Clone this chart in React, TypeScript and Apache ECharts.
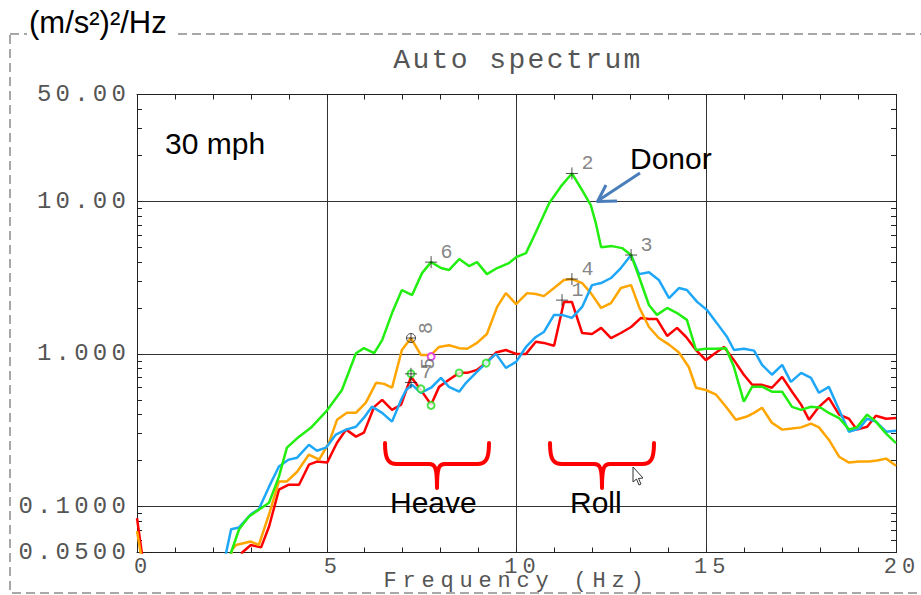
import React, { useEffect, useRef } from 'react';
import * as echarts from 'echarts';

// ---------- data ----------
const xTickLabels = ['0', '5', '10', '15', '20'];
const yTickValues = [0.05, 0.1, 1, 10, 50];
const yTickLabels = ['0.0500', '0.1000', '1.000', '10.00', '50.00'];
const yMinorTicks = [
  0.05, 0.06, 0.07, 0.08, 0.09, 0.1, 0.2, 0.3, 0.4, 0.5, 0.6, 0.7, 0.8, 0.9,
  1, 2, 3, 4, 5, 6, 7, 8, 9, 10, 20, 30, 40, 50,
];

// [frequency (Hz), PSD ((m/s^2)^2/Hz)]
const greenPsd = [
  [2.3, 0.03], [2.48, 0.05], [2.69, 0.071], [2.95, 0.086], [3.48, 0.106], [3.74, 0.157], [3.95, 0.243],
  [4.27, 0.287], [4.58, 0.328], [4.98, 0.418], [5.4, 0.58], [5.77, 1.01], [5.98, 1.09], [6.25, 1.01],
  [6.46, 1.23], [6.72, 1.85], [6.98, 2.62], [7.25, 2.43], [7.51, 3.38], [7.75, 3.99], [8.01, 3.65],
  [8.22, 3.54], [8.49, 4.18], [8.75, 3.76], [8.96, 3.99], [9.22, 3.33], [9.49, 3.65], [9.8, 3.93],
  [9.99, 4.3], [10.25, 4.57], [10.51, 6.27], [10.86, 9.7], [11.17, 12.5], [11.46, 15.2], [11.73, 11.8],
  [11.96, 9.4], [12.09, 7.18], [12.23, 5.0], [12.52, 5.08], [12.78, 4.93], [13.02, 4.44], [13.23, 3.19],
  [13.49, 2.09], [13.7, 1.8], [13.97, 2.0], [14.23, 1.85], [14.49, 1.67], [14.73, 1.06], [14.99, 1.08],
  [15.26, 1.08], [15.52, 1.09], [15.73, 0.82], [15.99, 0.486], [16.21, 0.61], [16.47, 0.61], [16.73, 0.565],
  [17.0, 0.565], [17.26, 0.45], [17.5, 0.43], [17.76, 0.45], [18.02, 0.444], [18.23, 0.41], [18.5, 0.38],
  [18.76, 0.32], [18.97, 0.33], [19.24, 0.4], [19.47, 0.36], [19.74, 0.3], [20, 0.26],
];
const bluePsd = [
  [2.25, 0.035], [2.35, 0.05], [2.48, 0.071], [2.69, 0.073], [3.0, 0.089], [3.21, 0.096], [3.48, 0.135],
  [3.74, 0.183], [4.0, 0.203], [4.22, 0.209], [4.53, 0.254], [4.74, 0.232], [4.98, 0.243], [5.24, 0.296],
  [5.51, 0.319], [5.77, 0.333], [5.98, 0.382], [6.19, 0.451], [6.46, 0.411], [6.72, 0.36], [6.96, 0.5],
  [7.09, 0.58], [7.25, 0.627], [7.48, 0.556], [7.75, 0.6], [8.01, 0.697], [8.22, 0.608], [8.49, 0.565],
  [8.67, 0.646], [8.93, 0.751], [9.2, 0.873], [9.46, 1.0], [9.72, 0.81], [9.99, 0.886], [10.25, 1.11],
  [10.51, 1.29], [10.72, 1.39], [10.99, 1.8], [11.2, 1.8], [11.46, 1.72], [11.73, 2.03], [11.99, 2.82],
  [12.23, 2.91], [12.49, 3.14], [12.75, 3.65], [13.02, 4.44], [13.23, 3.33], [13.49, 3.43], [13.75, 3.05],
  [14.02, 2.32], [14.28, 2.7], [14.49, 2.62], [14.76, 2.19], [15.02, 1.94], [15.28, 1.59], [15.55, 1.29],
  [15.73, 1.06], [15.99, 1.08], [16.26, 1.05], [16.47, 0.848], [16.73, 0.73], [17.0, 0.848], [17.23, 0.656],
  [17.5, 0.751], [17.76, 0.697], [17.97, 0.556], [18.23, 0.608], [18.5, 0.43], [18.76, 0.309], [19.03, 0.324],
  [19.24, 0.376], [19.47, 0.36], [19.74, 0.309], [20, 0.314],
];
const orangePsd = [
  [0, 0.069], [0.25, 0.03], [2.35, 0.03], [2.5, 0.052], [2.61, 0.056], [3.0, 0.059], [3.21, 0.056],
  [3.48, 0.089], [3.74, 0.146], [3.95, 0.146], [4.22, 0.169], [4.53, 0.219], [4.8, 0.203], [5.06, 0.262],
  [5.27, 0.37], [5.53, 0.411], [5.77, 0.411], [6.03, 0.479], [6.3, 0.646], [6.51, 0.636], [6.72, 0.6],
  [6.98, 1.06], [7.22, 1.27], [7.48, 0.985], [7.75, 0.985], [7.96, 1.11], [8.22, 1.14], [8.49, 1.09],
  [8.7, 1.08], [8.96, 1.18], [9.22, 1.35], [9.49, 2.03], [9.72, 2.5], [9.99, 2.12], [10.28, 2.5],
  [10.51, 2.47], [10.72, 2.39], [10.99, 2.7], [11.25, 3.05], [11.46, 3.09], [11.73, 2.91], [11.96, 2.5],
  [12.23, 2.0], [12.49, 2.15], [12.75, 2.7], [13.02, 2.82], [13.23, 2.03], [13.49, 1.5], [13.75, 1.27],
  [14.02, 1.15], [14.28, 1.02], [14.54, 0.82], [14.73, 0.6], [14.99, 0.58], [15.26, 0.54], [15.52, 0.45],
  [15.78, 0.37], [16.05, 0.387], [16.26, 0.411], [16.47, 0.444], [16.73, 0.354], [17.0, 0.319], [17.26, 0.324],
  [17.5, 0.33], [17.76, 0.349], [17.97, 0.33], [18.23, 0.274], [18.5, 0.212], [18.76, 0.194], [19.03, 0.197],
  [19.29, 0.197], [19.5, 0.2], [19.74, 0.206], [20, 0.185],
];
const redPsd = [
  [0, 0.084], [0.25, 0.03], [2.6, 0.03], [2.77, 0.05], [3.0, 0.056], [3.27, 0.054], [3.48, 0.074],
  [3.74, 0.129], [4.0, 0.139], [4.27, 0.139], [4.53, 0.188], [4.74, 0.197], [5.01, 0.194], [5.27, 0.262],
  [5.51, 0.319], [5.77, 0.287], [5.98, 0.305], [6.25, 0.45], [6.46, 0.5], [6.72, 0.43], [6.96, 0.465],
  [7.22, 0.707], [7.48, 0.58], [7.75, 0.465], [7.96, 0.608], [8.22, 0.676], [8.49, 0.751], [8.7, 0.751],
  [8.96, 0.786], [9.2, 0.873], [9.46, 1.02], [9.72, 1.06], [9.99, 1.0], [10.25, 1.0], [10.51, 1.2],
  [10.72, 1.18], [10.99, 1.13], [11.25, 2.19], [11.46, 2.19], [11.73, 1.37], [11.99, 1.35], [12.23, 1.48],
  [12.49, 1.27], [12.75, 1.37], [13.02, 1.5], [13.28, 1.72], [13.49, 1.69], [13.7, 1.69], [13.97, 1.31],
  [14.23, 1.48], [14.47, 1.29], [14.73, 1.06], [14.99, 0.91], [15.26, 1.02], [15.47, 1.11], [15.73, 0.91],
  [15.99, 0.73], [16.21, 0.627], [16.47, 0.627], [16.73, 0.6], [17.0, 0.707], [17.26, 0.565], [17.5, 0.465],
  [17.71, 0.37], [17.97, 0.45], [18.23, 0.515], [18.5, 0.4], [18.76, 0.376], [18.97, 0.319], [19.24, 0.333],
  [19.47, 0.393], [19.74, 0.376], [20, 0.38],
];

// cursor markers
const markerFreq = [11.2, 11.46, 13.02, 11.46, 7.22, 7.75, 7.22, 7.22];
const markerPsd = [2.25, 15.2, 4.44, 3.09, 0.74, 3.99, 0.65, 1.27];
const markerLabel = ['1', '2', '3', '4', '5', '6', '7', '8'];
const markerRotate = [0, 0, 0, 0, 90, 0, 0, 90];
const markerRing = [false, false, false, false, false, false, false, true];

// small circle markers
const circleFreq = [7.22, 7.48, 7.75, 8.49, 9.2, 7.75];
const circlePsd = [0.74, 0.59, 0.46, 0.75, 0.87, 0.96];
const circleColor = ['#22dd22', '#22dd22', '#22dd22', '#22dd22', '#22dd22', '#e020e0'];

const seriesNames = ['Red', 'Orange', 'Blue', 'Donor'];
const seriesColors = ['#ff0000', '#ffa500', '#1ea7f7', '#22ee11'];
const seriesData = [redPsd, orangePsd, bluePsd, greenPsd];

// ---------- helpers ----------
const BRACE_D =
  'M0,0 C0,16 3,21 12,21 L44,21 C50,21 52,24 52,45 C52,24 54,21 60,21 L92,21 C101,21 104,16 104,0';
echarts.graphic.registerShape('brace', echarts.graphic.extendPath(BRACE_D, {}));

const MONO = '"Liberation Mono", "DejaVu Sans Mono", monospace';
const SANS = '"Liberation Sans", Arial, sans-serif';

const spacingMap: Record<string, number> = {};
yTickLabels.forEach((l) => (spacingMap[l] = 4.2));
xTickLabels.forEach((l) => (spacingMap[l] = 5));
spacingMap['Frequency (Hz)'] = 5.8;
spacingMap['Auto spectrum'] = 2.4;

function applySpacing(el: HTMLElement) {
  el.querySelectorAll('text').forEach((t) => {
    const s = spacingMap[(t.textContent || '').trim()];
    if (s !== undefined && (t as any).style) (t as any).style.letterSpacing = s + 'px';
  });
}

function yLabel(v: number) {
  for (let i = 0; i < yTickValues.length; i++) {
    if (Math.abs(Math.log10(v) - Math.log10(yTickValues[i])) < 0.01) return yTickLabels[i];
  }
  return '';
}

export default function App() {
  const ref = useRef<HTMLDivElement>(null);

  useEffect(() => {
    const el = ref.current!;
    const chart = echarts.init(el, null, { renderer: 'svg' });

    const axisLine = { show: true, lineStyle: { color: '#222', width: 1 } };
    const xBase = {
      type: 'value',
      min: 0,
      max: 20,
      interval: 5,
      axisLine,
      axisTick: { show: true, inside: true, length: 5, lineStyle: { color: '#222' } },
      minorTick: { show: true, splitNumber: 5, length: 5, lineStyle: { color: '#222' } },
      splitLine: { show: false },
    };
    const yBase = { type: 'log', logBase: 10, min: 0.05, max: 50 };

    const option: any = {
      animation: false,
      backgroundColor: '#ffffff',
      title: {
        text: 'Auto spectrum',
        left: 518,
        top: 46,
        padding: 0,
        textAlign: 'center',
        textStyle: { fontFamily: MONO, fontSize: 28, fontWeight: 'normal', color: '#555' },
      },
      grid: { left: 137, top: 94.5, width: 759, height: 458, outerBoundsMode: 'none', containLabel: false },
      xAxis: [
        {
          ...xBase,
          position: 'bottom',
          name: 'Frequency (Hz)',
          nameLocation: 'middle',
          nameGap: 18,
          nameMoveOverlap: false,
          nameTextStyle: { fontFamily: MONO, fontSize: 22, color: '#555' },
          axisLabel: {
            show: true,
            margin: 4,
            padding: [0, 0, 0, 12],
            fontFamily: MONO,
            fontSize: 22,
            color: '#555',
            formatter: (v: number) => xTickLabels[Math.round(v / 5)] ?? '',
          },
          splitLine: { show: true, lineStyle: { color: '#333', width: 1 } },
        },
        { ...xBase, position: 'top', axisLabel: { show: false } },
      ],
      yAxis: [
        {
          ...yBase,
          position: 'left',
          axisLine,
          axisTick: { show: false },
          axisLabel: {
            show: true,
            margin: 7,
            fontFamily: MONO,
            fontSize: 24,
            color: '#555',
            showMinLabel: true,
            showMaxLabel: true,
            formatter: (v: number) => yLabel(v),
          },
          splitLine: { show: true, lineStyle: { color: '#333', width: 1 } },
        },
        {
          ...yBase,
          position: 'left',
          axisLine: { show: false },
          axisLabel: { show: false },
          splitLine: { show: false },
          axisTick: { show: true, inside: true, length: 5, customValues: yMinorTicks, lineStyle: { color: '#222' } },
        },
        {
          ...yBase,
          position: 'right',
          axisLine,
          axisLabel: { show: false },
          splitLine: { show: false },
          axisTick: { show: true, inside: true, length: 5, customValues: yMinorTicks, lineStyle: { color: '#222' } },
        },
      ],
      series: [
        ...seriesData.map((d, i) => ({
          type: 'line',
          name: seriesNames[i],
          data: d,
          symbol: 'none',
          showSymbol: false,
          clip: true,
          z: 2 + i * 0.1,
          lineStyle: { color: seriesColors[i], width: 2.5 },
          itemStyle: { color: seriesColors[i] },
        })),
        {
          type: 'scatter',
          name: 'markers',
          z: 5,
          clip: false,
          symbolSize: 12,
          data: markerFreq.map((f, i) => ({
            value: [f, markerPsd[i]],
            symbol: markerRing[i]
              ? 'path://M5,0 A5,5 0 1 1 4.99,0 Z M0,5 L10,5 M5,0 L5,10'
              : 'path://M0,5 L10,5 M5,0 L5,10',
            symbolSize: markerRing[i] ? 9 : 12,
            label: markerRotate[i]
              ? { rotate: markerRotate[i], offset: [4, 8] }
              : { rotate: 0 },
          })),
          itemStyle: { color: 'rgba(0,0,0,0)', borderColor: '#222', borderWidth: 1 },
          label: {
            show: true,
            position: 'right',
            distance: 3,
            offset: [0, -10],
            fontFamily: MONO,
            fontSize: 20,
            color: '#666',
            formatter: (p: any) => markerLabel[p.dataIndex],
          },
        },
        {
          type: 'scatter',
          name: 'points',
          z: 4,
          symbol: 'emptyCircle',
          symbolSize: 7,
          data: circleFreq.map((f, i) => ({
            value: [f, circlePsd[i]],
            itemStyle: { color: circleColor[i], borderColor: circleColor[i] },
          })),
          itemStyle: { borderWidth: 1 },
        },
      ],
      graphic: [
        {
          type: 'rect',
          z: 100,
          shape: { x: 10, y: 34, width: 1000, height: 559 },
          style: { fill: 'none', stroke: '#a8a8a8', lineWidth: 2, lineDash: [9, 5] },
          silent: true,
        },
        {
          type: 'rect',
          z: 101,
          shape: { x: 27, y: 26, width: 150, height: 14 },
          style: { fill: '#ffffff' },
          silent: true,
        },
        {
          type: 'text',
          z: 102,
          x: 29,
          y: 22,
          style: {
            text: '(m/s²)²/Hz',
            fontFamily: SANS,
            fontSize: 31,
            fill: '#000',
            align: 'left',
            verticalAlign: 'middle',
            textAlign: 'left',
            textVerticalAlign: 'middle',
          },
        },
        ...[
          ['30 mph', 165, 143],
          ['Donor', 630, 158],
          ['Heave', 390, 502],
          ['Roll', 570, 502],
        ].map(([t, x, y]) => ({
          type: 'text',
          z: 102,
          x,
          y,
          style: {
            text: t,
            fontFamily: SANS,
            fontSize: 30,
            fill: '#000',
            align: 'left',
            verticalAlign: 'middle',
            textAlign: 'left',
            textVerticalAlign: 'middle',
          },
        })),
        ...[385, 550].map((x) => ({
          type: 'brace',
          z: 102,
          x,
          y: 443,
          style: { fill: 'none', stroke: '#ff0000', lineWidth: 4, lineJoin: 'round', lineCap: 'round' },
        })),
        {
          type: 'line',
          z: 102,
          shape: { x1: 640, y1: 173, x2: 599, y2: 200 },
          style: { stroke: '#4a7ebb', lineWidth: 3 },
        },
        {
          type: 'polyline',
          z: 102,
          shape: { points: [[606, 185], [597.5, 201.5], [617, 201]] },
          style: { fill: 'none', stroke: '#4a7ebb', lineWidth: 3, lineJoin: 'round' },
        },
        {
          type: 'polygon',
          z: 102,
          shape: {
            points: [[633, 467], [633, 482], [636.5, 479], [639, 485], [641, 484], [638.5, 478.5], [643, 478]],
          },
          style: { fill: '#ffffff', stroke: '#333', lineWidth: 1 },
        },
      ],
    };

    chart.setOption(option);
    applySpacing(el);
    chart.on('finished', () => applySpacing(el));
    return () => chart.dispose();
  }, []);

  return (
    <div
      ref={ref}
      style={{ position: 'fixed', left: 0, top: 0, width: 921, height: 595, background: '#ffffff' }}
    />
  );
}
